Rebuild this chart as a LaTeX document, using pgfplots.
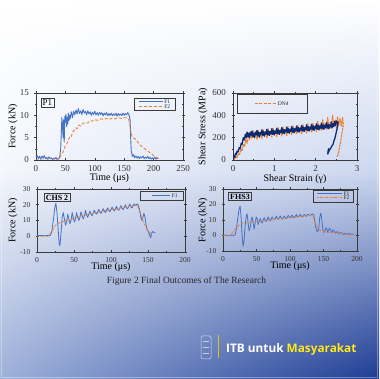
\documentclass[border=0pt]{standalone}
\usepackage{fontspec}
\setmainfont{Liberation Serif}
\newfontfamily\itbfont{Open Sans}
\usepackage{pgfplots}
\pgfplotsset{compat=1.18}
\usetikzlibrary{shadings}
\definecolor{fone}{HTML}{4472C4}
\definecolor{ftwo}{HTML}{ED7D31}
\definecolor{navy}{HTML}{0B2A6F}
\definecolor{ax}{HTML}{3A3A3A}
\definecolor{itbyellow}{HTML}{FFE81A}
\definecolor{bgA}{HTML}{F5F7FC}
\definecolor{bgB}{HTML}{CCD7EF}
\definecolor{bgC}{HTML}{9DB0DA}
\definecolor{bgD}{HTML}{1D3C94}
\pgfplotsset{
 base/.style={scale only axis, anchor=south west,
  axis line style={ax, line width=0.6pt}, tick style={ax, line width=0.5pt},
  tick align=center, major tick length=3pt, minor tick length=2pt, minor tick num=1,
  /pgf/number format/assume math mode=true,
  ticklabel style={text=black!80, inner sep=0.5pt},
  label style={text=black!85, inner sep=0.5pt},
  every axis plot/.append style={line join=round},
 },
 upper/.style={ticklabel style={font=\fontsize{9}{10}\selectfont},
  label style={font=\fontsize{9}{10}\selectfont},
  xticklabel style={yshift=-3.5pt}, yticklabel style={xshift=-5pt}},
 lower/.style={ticklabel style={font=\fontsize{7.5}{8.5}\selectfont},
  label style={font=\fontsize{8}{9}\selectfont},
  xticklabel style={yshift=-3pt}, yticklabel style={xshift=-4.5pt}},
 ylab/.style={every axis y label/.style={at={(axis description cs:0,0.5)}, xshift=-#1, rotate=90, anchor=center}},
 xlab/.style={every axis x label/.style={at={(axis description cs:0.5,0)}, yshift=-#1, anchor=center}},
}
\tikzset{lgtext/.style={anchor=west, inner sep=0pt, font=\fontsize{5.5}{6}\selectfont, text=black!85},
 lgbox/.style={draw=ax, line width=0.45pt}}
\begin{document}
\begin{tikzpicture}
\useasboundingbox (0,0) rectangle (379pt,379pt);
\shade[upper left=white, upper right=white, lower left=bgA, lower right=bgB] (0,209pt) rectangle (379pt,379pt);
\shade[upper left=bgA, upper right=bgB, lower left=bgC, lower right=bgD] (0,0) rectangle (379pt,209pt);
\draw[white, opacity=0.35, line width=1pt] (1.5pt,1.5pt) rectangle (377.5pt,377.5pt);

% ---------- P1 ----------
\begin{axis}[base, upper, at={(36pt,219pt)}, width=147pt, height=67pt,
  xmin=0, xmax=250, ymin=0, ymax=15, xtick={0,50,...,250}, ytick={0,5,10,15},
  minor x tick num=0,
  xlab=18pt, ylab=23pt, xlabel={Time (μs)}, ylabel={Force (kN)}]
\addplot[color=fone, line width=0.9pt] coordinates {
(0,0.5)(2,1.0)(4,0.3)(6,0.8)(8,0.2)(10,0.9)(12,0.4)(14,1.0)(16,0.3)(18,0.6)(20,0.2)(22,0.7)(24,0.3)(26,0.5)(28,0.1)(30,0.4)(32,0.2)(34,0.6)(36,0.1)(38,0.3)(40,0.5)
(42,2.5)(43,6)(44,9.5)(45,8)(46,5)(47,9)(48,4)(49,9.8)(50,8.5)(51,10.2)(52,7.5)(53,9.5)(54,8.0)(55,10.5)(56,8.8)(57,10.0)(58,9.2)(60,10.8)(62,9.5)(64,10.9)(66,10.1)(68,11.2)(70,10.3)(72,11.5)(74,10.4)(76,11.0)(78,10.2)(80,11.3)(82,10.5)(84,10.9)(86,10.1)(88,11.0)(90,10.3)(92,10.8)(94,10.0)(96,10.7)(98,10.2)(100,10.9)(102,10.1)(104,10.6)(106,10.0)(108,10.7)(110,10.2)(112,10.6)(114,9.9)(116,10.5)(118,10.1)(120,10.6)(122,9.9)(124,10.4)(126,10.0)(128,10.5)(130,9.9)(132,10.3)(134,10.0)(136,10.5)(138,9.8)(140,10.4)(142,10.0)(144,10.3)(146,9.9)(148,10.5)(150,10.0)(152,10.4)(154,10.1)(156,10.6)(158,10.2)
(160,9.0)(161,5)(162,2)(164,0.8)(166,1.2)(168,0.5)(170,0.9)(172,0.4)(174,0.8)(176,0.3)(178,0.7)(180,0.5)(182,0.9)(184,0.3)(186,0.6)(188,0.4)(190,0.8)(192,0.3)(194,0.6)(196,0.2)(198,0.5)(200,0.3)(202,0.6)(204,0.2)(206,0.5)(208,0.3)};
\addplot[color=ftwo, line width=0.9pt, dash pattern=on 3pt off 2pt] coordinates {
(0,0)(20,0)(35,0)(40,0.3)(42,1.0)(45,1.5)(48,2.5)(50,3.2)(52,3.5)(55,4.5)(58,5.3)(60,5.2)(62,6.2)(65,6.6)(68,7.2)(70,7.0)(73,7.8)(76,7.6)(80,8.2)(84,8.4)(88,8.3)(92,8.8)(96,8.7)(100,9.0)(105,8.9)(110,9.2)(115,9.1)(120,9.3)(125,9.1)(130,9.4)(135,9.2)(140,9.5)(145,9.3)(150,9.5)(155,9.4)(158,9.0)(160,7.5)(162,6.0)(164,5.0)(168,4.8)(172,4.2)(176,3.5)(180,3.0)(185,2.5)(190,2.0)(195,1.5)(200,1.0)(205,0.6)(210,0.2)};
\node[draw=ax, line width=0.6pt, inner sep=1.6pt, font=\fontsize{9}{10}\selectfont] at (rel axis cs:0.078,0.858) {P1};
% legend
\draw[lgbox] (rel axis cs:0.667,0.746) rectangle (rel axis cs:0.946,0.925);
\draw[fone, line width=1.2pt] (rel axis cs:0.70,0.87) -- (rel axis cs:0.864,0.87);
\draw[ftwo, line width=1.2pt, dash pattern=on 3pt off 2pt] (rel axis cs:0.70,0.795) -- (rel axis cs:0.864,0.795);
\node[lgtext] at (rel axis cs:0.872,0.87) {F1};
\node[lgtext] at (rel axis cs:0.872,0.795) {F2};
\end{axis}

% ---------- DN4 ----------
\begin{axis}[base, upper, at={(233pt,219pt)}, width=124pt, height=67pt,
  xmin=0, xmax=3, ymin=0, ymax=600, xtick={0,1,2,3}, ytick={0,200,400,600},
  label style={font=\fontsize{8.5}{9.5}\selectfont},
  xlab=19pt, ylab=30pt, xlabel={Shear Strain (γ)}, ylabel={Shear Stress (MPa)}]
\addplot[color=ftwo, line width=1.1pt, dash pattern=on 2.5pt off 0.8pt] coordinates {
(0,0)(0.05,10)(0.08,40)(0.1,20)(0.13,60)(0.16,50)(0.19,100)(0.22,80)(0.25,140)(0.28,120)(0.31,190)(0.34,150)(0.37,220)(0.40,180)(0.43,250)(0.46,190)(0.49,260)(0.52,200)(0.55,240)(0.58,185)(0.61,265)(0.64,200)(0.67,250)(0.70,190)(0.73,270)(0.76,210)(0.79,255)(0.82,195)(0.85,280)(0.88,215)(0.91,260)(0.94,205)(0.97,285)(1.00,225)(1.03,265)(1.06,210)(1.09,290)(1.12,230)(1.15,270)(1.18,215)(1.21,295)(1.24,235)(1.27,275)(1.30,220)(1.33,300)(1.36,240)(1.39,280)(1.42,225)(1.45,305)(1.48,245)(1.51,285)(1.54,230)(1.57,310)(1.60,250)(1.63,290)(1.66,235)(1.69,320)(1.72,255)(1.75,295)(1.78,240)(1.81,325)(1.84,260)(1.87,300)(1.90,245)(1.93,330)(1.96,265)(1.99,310)(2.02,255)(2.05,345)(2.08,270)(2.11,320)(2.14,260)(2.17,360)(2.20,280)(2.23,330)(2.26,270)(2.29,380)(2.32,290)(2.35,340)(2.38,280)(2.41,400)(2.44,300)(2.47,360)(2.50,290)(2.53,390)(2.56,310)(2.59,370)(2.62,300)(2.65,380)(2.67,320)(2.64,250)(2.61,180)(2.58,120)(2.56,80)(2.54,50)(2.52,30)};
\addplot[color=navy, line width=1.3pt] coordinates {
(0,0)(0.02,40)(0.04,20)(0.06,60)(0.08,50)(0.1,80)(0.12,70)(0.15,110)(0.17,100)(0.2,150)(0.22,140)(0.25,200)(0.27,180)(0.3,230)(0.32,200)
(0.34,250)(0.36,210)(0.38,240)(0.40,200)(0.42,250)(0.44,220)(0.46,260)(0.48,210)(0.50,240)(0.52,200)(0.54,250)(0.56,225)(0.58,265)(0.60,215)(0.62,250)(0.64,205)(0.66,245)(0.68,230)(0.70,270)(0.72,220)(0.74,255)(0.76,215)(0.78,250)(0.80,230)(0.82,275)(0.84,225)(0.86,260)(0.88,220)(0.90,255)(0.92,235)(0.94,280)(0.96,230)(0.98,265)(1.00,225)(1.02,260)(1.04,240)(1.06,285)(1.08,235)(1.10,270)(1.12,230)(1.14,265)(1.16,245)(1.18,290)(1.20,240)(1.22,275)(1.24,235)(1.26,270)(1.28,250)(1.30,295)(1.32,245)(1.34,280)(1.36,240)(1.38,275)(1.40,255)(1.42,300)(1.44,250)(1.46,285)(1.48,245)(1.50,280)(1.52,260)(1.54,305)(1.56,255)(1.58,290)(1.60,250)(1.62,285)(1.64,265)(1.66,310)(1.68,260)(1.70,295)(1.72,255)(1.74,290)(1.76,270)(1.78,315)(1.80,265)(1.82,300)(1.84,260)(1.86,295)(1.88,275)(1.90,320)(1.92,270)(1.94,305)(1.96,265)(1.98,300)(2.00,280)(2.02,325)(2.04,275)(2.06,310)(2.08,270)(2.10,305)(2.12,285)(2.14,330)(2.16,280)(2.18,315)(2.20,275)(2.22,310)(2.24,290)(2.26,335)(2.28,285)(2.30,320)(2.32,280)(2.34,315)(2.36,295)(2.38,340)(2.40,290)(2.42,325)(2.44,300)(2.46,345)(2.48,310)(2.50,350)(2.52,330)(2.54,340)
(2.53,300)(2.50,250)(2.47,200)(2.44,170)(2.42,140)(2.40,130)(2.37,110)(2.35,100)(2.32,80)(2.30,60)(2.31,100)(2.29,50)};
\draw[lgbox] (rel axis cs:0.032,0.70) rectangle (rel axis cs:0.597,0.985);
\draw[ftwo, line width=1.4pt, dash pattern=on 3pt off 1.5pt] (rel axis cs:0.177,0.843) -- (rel axis cs:0.347,0.843);
\node[lgtext] at (rel axis cs:0.36,0.843) {DN4};
\end{axis}

% ---------- CHS 2 ----------
\begin{axis}[base, lower, at={(37pt,127pt)}, width=148pt, height=63pt,
  xmin=0, xmax=200, ymin=-10, ymax=30, xtick={0,50,...,200}, ytick={-10,0,10,20,30},
  minor y tick num=0,
  xlab=15.5pt, ylab=24pt, xlabel={Time (μs)}, ylabel={Force (kN)}]
\addplot[color=fone, line width=0.8pt] coordinates {
(0,0.5)(5,0.5)(10,0.3)(15,0.5)(18,0.5)(20,3)(22,10)(24,18)(25.5,21)(27,15)(28.5,5)(30,-5)(31,-6)(32.5,2)(34,12)(35.5,15)(37,11)(38.5,7)(40,9)(41.5,14)(43,11)(44.5,8)(46,10)(47.5,15)(49,12)(50.5,9)(52,11)(53.5,15)(55,12)(56.5,10)(58,12)(59.5,15.5)(61,13)(62.5,11)(64,13)(65.5,16.5)(67,13.5)(68.5,12)(70,14)(71.5,16)(73,14)(74.5,13)(76,15)(77.5,16.5)(79,15)(80.5,14)(82,15.5)(83.5,17)(85,15.5)(86.5,14.5)(88,16)(89.5,17.5)(91,16)(92.5,15)(94,16.5)(95.5,18)(97,16.5)(98.5,15.5)(100,17)(101.5,18.5)(103,17)(104.5,16)(106,17.5)(107.5,19)(109,17)(110.5,16.5)(112,18)(113.5,19.5)(115,17.5)(116.5,17)(118,18.5)(119.5,20)(121,18)(122.5,17.5)(124,19)(125.5,20.5)(127,18.5)(128.5,18)(130,19.5)(131.5,20.5)(133,19.5)(134.5,20)(136,20.5)(137,19.5)(138.5,17)(140,13)(141.5,10)(143,12)(144.5,14.5)(146,12)(147.5,7)(149,4)(150.5,3)(152,1)(153.5,-1)(155,2)(156.5,3)(158,2.5)(160,2)};
\addplot[color=ftwo, line width=0.9pt, dash pattern=on 2pt off 1pt on 0.6pt off 1pt] coordinates {
(0,0)(15,0)(20,3)(25,7)(30,8.5)(40,10)(50,11.5)(60,13)(70,14)(80,15)(90,16)(100,17)(110,17.5)(120,18.5)(130,19.5)(135,19.5)(138,17)(141,13)(144,9)(147,6)(150,3.5)(153,2)(155,1.5)};
\node[draw=ax, line width=0.6pt, inner sep=1.6pt, font=\bfseries\fontsize{8}{9}\selectfont] at (rel axis cs:0.135,0.865) {CHS 2};
\draw[lgbox] (rel axis cs:0.696,0.825) rectangle (rel axis cs:0.986,0.968);
\draw[fone, line width=1pt] (rel axis cs:0.777,0.897) -- (rel axis cs:0.899,0.897);
\node[lgtext] at (rel axis cs:0.91,0.897) {F1};
\end{axis}

% ---------- FHS3 ----------
\begin{axis}[base, lower, at={(223pt,128pt)}, width=134pt, height=62pt,
  xmin=0, xmax=200, ymin=-10, ymax=30, xtick={0,50,...,200}, ytick={-10,0,10,20,30},
  minor y tick num=0,
  xlab=15pt, ylab=20pt, xlabel={Time (μs)}, ylabel={Force (kN)}]
\addplot[color=fone, line width=0.8pt] coordinates {
(0,0)(4,0.3)(8,-0.2)(12,0.3)(16,0)(18,0.3)(20,4)(22,11)(24,17)(25.5,19)(27,12)(28.5,0)(30,-7)(31.5,-3)(33,6)(34.5,12)(36,14)(37.5,8)(39,3)(40.5,5)(42,10)(43.5,12)(45,8)(46.5,4)(48,8)(49.5,12)(51,11)(52.5,7)(54,9)(55.5,11)(57,9)(58.5,8)(60,10)(61.5,11.5)(63,10)(64.5,9)(66,10.5)(67.5,12)(69,10.5)(70.5,9.5)(72,11)(73.5,12)(75,10.5)(76.5,10)(78,11)(79.5,12.5)(81,11)(82.5,10.5)(84,11.5)(85.5,12.5)(87,11.5)(88.5,10.5)(90,11.5)(91.5,12.5)(93,11.5)(94.5,11)(96,12)(97.5,13)(99,12)(100.5,11.5)(102,12.5)(103.5,13)(105,12)(106.5,11.5)(108,12.5)(109.5,13.5)(111,12)(112.5,12)(114,13)(115.5,13.5)(117,12.5)(118.5,12)(120,13)(121.5,13.5)(123,12.5)(124.5,12.5)(126,13.5)(127.5,13.5)(129,13)(130.5,13)(132,13.5)(134,14)(135.5,13)(137,9)(138.5,5)(140,3)(141.5,2.5)(143,5)(144.5,12)(146,14.5)(147.5,10)(149,4)(150.5,2)(152,3)(153.5,5)(155,4)(156.5,2)(158,4)(159.5,4.5)(161,3)(162.5,2)(164,3.5)(166,3)(168,1.5)(170,2.5)(172,2)(174,1)(176,2)(178,1.5)(180,0.5)(182,1.5)(184,1)(186,0.5)(188,1.5)(190,0.5)(192,1)(195,0.5)};
\addplot[color=ftwo, line width=0.9pt, dash pattern=on 2pt off 1pt on 0.6pt off 1pt] coordinates {
(0,0)(10,0)(13,1)(16,3)(20,5)(25,7)(30,8)(40,8.5)(50,9)(60,9.5)(70,10)(80,10.5)(90,11)(100,11.5)(110,12)(120,12.5)(130,12.8)(134,12.5)(137,9)(140,6)(143,4)(147,3)(152,2.5)(160,2)(170,1.5)(180,1)(190,0.8)(195,0.5)};
\node[draw=ax, line width=0.6pt, inner sep=1.6pt, font=\bfseries\fontsize{8}{9}\selectfont] at (rel axis cs:0.127,0.88) {FHS3};
\draw[lgbox] (rel axis cs:0.672,0.79) rectangle (rel axis cs:0.970,0.984);
\draw[fone, line width=1pt] (rel axis cs:0.70,0.93) -- (rel axis cs:0.888,0.93);
\draw[ftwo, line width=1pt, dash pattern=on 2pt off 1pt on 0.6pt off 1pt] (rel axis cs:0.70,0.855) -- (rel axis cs:0.888,0.855);
\node[lgtext] at (rel axis cs:0.898,0.93) {F1};
\node[lgtext] at (rel axis cs:0.898,0.855) {F2};
\end{axis}

\node[font=\fontsize{9.5}{11}\selectfont, text=black!85] at (186.5pt,98pt) {Figure 2 Final Outcomes of The Research};

% logo placeholder and ITB text
\draw[white, opacity=0.7, line width=0.5pt, rounded corners=1.5pt] (201pt,20pt) rectangle (211pt,43pt);
\draw[white, opacity=0.6, line width=0.4pt] (203pt,26pt) -- (209pt,26pt) (203pt,32pt) -- (209pt,32pt) (203pt,38pt) -- (209pt,38pt);
\draw[itbyellow!85!black, line width=0.8pt] (218pt,21pt) -- (218pt,44pt);
\node[anchor=base west, inner sep=0pt, text=white, font=\itbfont\bfseries\fontsize{11.8}{13}\selectfont] at (226pt,26pt) {ITB untuk \textcolor{itbyellow}{Masyarakat}};
\end{tikzpicture}
\end{document}
